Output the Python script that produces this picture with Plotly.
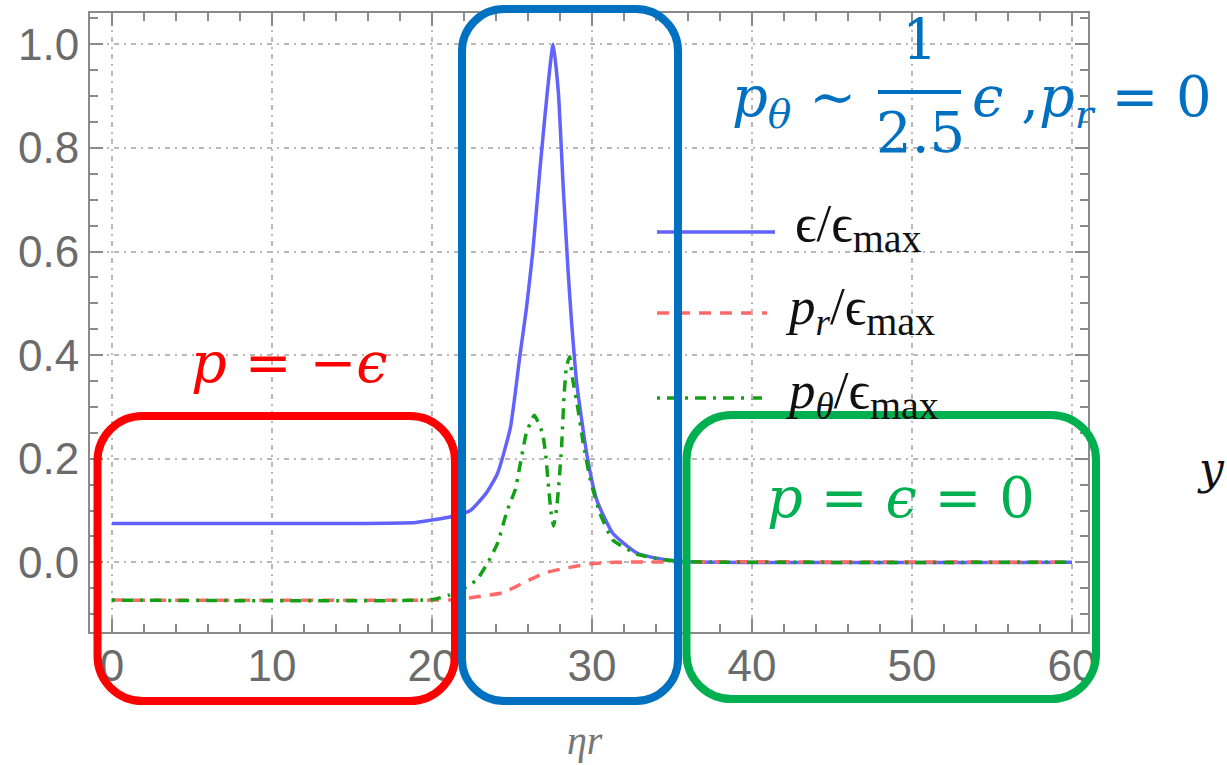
import plotly.graph_objects as go

# ---------------- data ----------------
eps_x = [0, 15, 19, 20.1, 21.3, 22.4, 23.4, 24.1, 24.9, 25.5, 25.9, 26.3, 26.75,
         27.2, 27.57, 27.9, 28.2, 28.5, 28.7, 29.05, 29.7, 30.3, 31.3, 32.8, 34.4, 36, 60]
eps_y = [0.075, 0.075, 0.077, 0.082, 0.089, 0.10, 0.134, 0.172, 0.26, 0.40, 0.49, 0.60, 0.76,
         0.906, 1.0, 0.906, 0.725, 0.565, 0.474, 0.345, 0.204, 0.12, 0.056, 0.018, 0.006, 0.001, 0.0]

pr_x = [0, 20, 21.5, 22.7, 24.4, 25.7, 27.1, 28.4, 29.9, 31.5, 60]
pr_y = [-0.073, -0.073, -0.072, -0.067, -0.059, -0.04, -0.02, -0.011, -0.003, 0.0, 0.0]

pt_x = [0, 20, 21.1, 22.0, 22.8, 23.5, 24.1, 24.7, 25.2, 25.9, 26.4, 26.9, 27.1, 27.3,
        27.45, 27.6, 27.8, 27.95, 28.1, 28.25, 28.4, 28.6, 28.8, 29.1, 29.45, 29.9, 30.5,
        31.3, 32.8, 34.4, 36, 60]
pt_y = [-0.073, -0.072, -0.063, -0.05, -0.034, 0.0, 0.037, 0.10, 0.14, 0.25, 0.284, 0.25,
        0.21, 0.14, 0.094, 0.07, 0.107, 0.159, 0.223, 0.32, 0.377, 0.397, 0.352, 0.30, 0.23,
        0.159, 0.094, 0.043, 0.016, 0.005, 0.001, 0.0]

x_ticks = [0, 10, 20, 30, 40, 50, 60]
y_ticks = [0.0, 0.2, 0.4, 0.6, 0.8, 1.0]
y_tick_text = ["0.0", "0.2", "0.4", "0.6", "0.8", "1.0"]

# ---------------- layout helpers (pixel -> paper) ----------------
L, R, T, B = 90, 1088, 13, 632
W, H = R - L, B - T


def PX(px):
    return (px - L) / W


def PY(py):
    return (B - py) / H


def rrect(x0, y0, x1, y1, r):
    k = 0.5523 * r
    def p(x, y):
        return f"{PX(x):.5f},{PY(y):.5f}"
    return (f"M {p(x0 + r, y0)} L {p(x1 - r, y0)} "
            f"C {p(x1 - r + k, y0)} {p(x1, y0 + r - k)} {p(x1, y0 + r)} "
            f"L {p(x1, y1 - r)} "
            f"C {p(x1, y1 - r + k)} {p(x1 - r + k, y1)} {p(x1 - r, y1)} "
            f"L {p(x0 + r, y1)} "
            f"C {p(x0 + r - k, y1)} {p(x0, y1 - r + k)} {p(x0, y1 - r)} "
            f"L {p(x0, y0 + r)} "
            f"C {p(x0, y0 + r - k)} {p(x0 + r - k, y0)} {p(x0 + r, y0)} Z")


BLUE = "rgb(98,98,255)"
RED = "rgb(255,105,105)"
GREEN = "rgb(20,160,20)"
GDASH = "3px,7px,11px,7px"
LW = 3.5

fig = go.Figure()
fig.add_trace(go.Scatter(x=eps_x, y=eps_y, mode="lines", name="ϵ/ϵmax", showlegend=False,
                         line=dict(color=BLUE, width=LW, shape="spline", smoothing=0.5)))
fig.add_trace(go.Scatter(x=pr_x, y=pr_y, mode="lines", name="pr/ϵmax", showlegend=False,
                         line=dict(color=RED, width=LW, dash="12px,9px", shape="spline", smoothing=0.5)))
fig.add_trace(go.Scatter(x=pt_x, y=pt_y, mode="lines", name="pθ/ϵmax", showlegend=False,
                         line=dict(color=GREEN, width=LW, dash=GDASH, shape="spline", smoothing=0.4)))

AX = "#8a8a8a"
GRID = "#b8b8b8"
tickfont = dict(family="Liberation Sans", size=44, color="#6b6b6b")

fig.update_xaxes(range=[-(112 - L) / 16, (R - 112) / 16], tickvals=x_ticks,
                 showline=True, linecolor=AX, linewidth=2, mirror="allticks",
                 ticks="inside", ticklen=13, tickwidth=2, tickcolor=AX,
                 minor=dict(dtick=2, ticks="inside", ticklen=8, tickwidth=2, tickcolor=AX, showgrid=False),
                 showgrid=True, gridcolor=GRID, gridwidth=1.5, griddash="2px,5px,5px,5px",
                 zeroline=False, tickfont=tickfont, ticklabelstandoff=-6)
fig.update_yaxes(range=[-(B - 562.3) / 518, (562.3 - T) / 518], tickvals=y_ticks, ticktext=y_tick_text,
                 showline=True, linecolor=AX, linewidth=2, mirror="allticks",
                 ticks="inside", ticklen=13, tickwidth=2, tickcolor=AX,
                 minor=dict(dtick=0.05, ticks="inside", ticklen=8, tickwidth=2, tickcolor=AX, showgrid=False),
                 showgrid=True, gridcolor=GRID, gridwidth=1.5, griddash="2px,5px,5px,5px",
                 zeroline=False, tickfont=tickfont, ticklabelstandoff=0)

shapes = []
# highlight boxes
shapes.append(dict(type="path", xref="paper", yref="paper", path=rrect(97.5, 416, 455, 701, 45),
                   line=dict(color="#ff0000", width=8)))
shapes.append(dict(type="path", xref="paper", yref="paper", path=rrect(462, 9, 678, 701, 42),
                   line=dict(color="#0070c0", width=8)))
shapes.append(dict(type="path", xref="paper", yref="paper", path=rrect(686.5, 415, 1096, 699, 45),
                   line=dict(color="#00b050", width=8)))
# manual legend keys
shapes.append(dict(type="line", xref="paper", yref="paper", x0=PX(657), x1=PX(775), y0=PY(232), y1=PY(232),
                   line=dict(color=BLUE, width=LW), layer="below"))
shapes.append(dict(type="line", xref="paper", yref="paper", x0=PX(657), x1=PX(767), y0=PY(313), y1=PY(313),
                   line=dict(color=RED, width=LW, dash="12px,9px"), layer="below"))
shapes.append(dict(type="line", xref="paper", yref="paper", x0=PX(657), x1=PX(765), y0=PY(398), y1=PY(398),
                   line=dict(color=GREEN, width=LW, dash=GDASH), layer="below"))
# fraction bar
shapes.append(dict(type="line", xref="paper", yref="paper", x0=PX(878), x1=PX(961), y0=PY(92), y1=PY(92),
                   line=dict(color="#0070c0", width=4)))

MATH = "DejaVu Serif"
LEG = "Liberation Serif"
ann = []


def A(px, py, text, color, size, family, xanchor="center", yanchor="middle"):
    ann.append(dict(x=PX(px), y=PY(py), xref="paper", yref="paper", text=text, showarrow=False,
                    xanchor=xanchor, yanchor=yanchor, font=dict(family=family, size=size, color=color)))


SUBMAX = "<sub><span style='font-size:40px'>max</span></sub>"
# legend text
A(793, 228, "ϵ/ϵ" + SUBMAX, "#111111", 53, LEG, xanchor="left")
A(783, 310, "<i>p<sub>r</sub></i>/ϵ" + SUBMAX, "#111111", 53, LEG, xanchor="left")
A(783, 394, "<i>p<sub>θ</sub></i>/ϵ" + SUBMAX, "#111111", 53, LEG, xanchor="left")

# region labels
A(289, 362, "<i>p</i> = −<i>ϵ</i>", "#ff0000", 56, MATH)
A(901, 497, "<i>p</i> = <i>ϵ</i> = 0", "#00b050", 56, MATH)
A(858, 100, "<i>p<sub>θ</sub></i> ~", "#0070c0", 56, MATH, xanchor="right")
A(920, 40, "1", "#0070c0", 56, MATH)
A(920, 132, "2.5", "#0070c0", 56, MATH)
A(970, 100, "<i>ϵ</i> ,<i>p<sub>r</sub></i> = 0", "#0070c0", 56, MATH, xanchor="left")
A(1227, 468, "<i>y</i>", "#111111", 44, MATH, xanchor="right")
# axis title
A(585, 740, "<i>ηr</i>", "#777777", 40, LEG)

fig.update_layout(width=1227, height=765, margin=dict(l=L, r=1227 - R, t=T, b=765 - B),
                  paper_bgcolor="white", plot_bgcolor="white", shapes=shapes, annotations=ann,
                  showlegend=False)

fig.write_html("out.html")
